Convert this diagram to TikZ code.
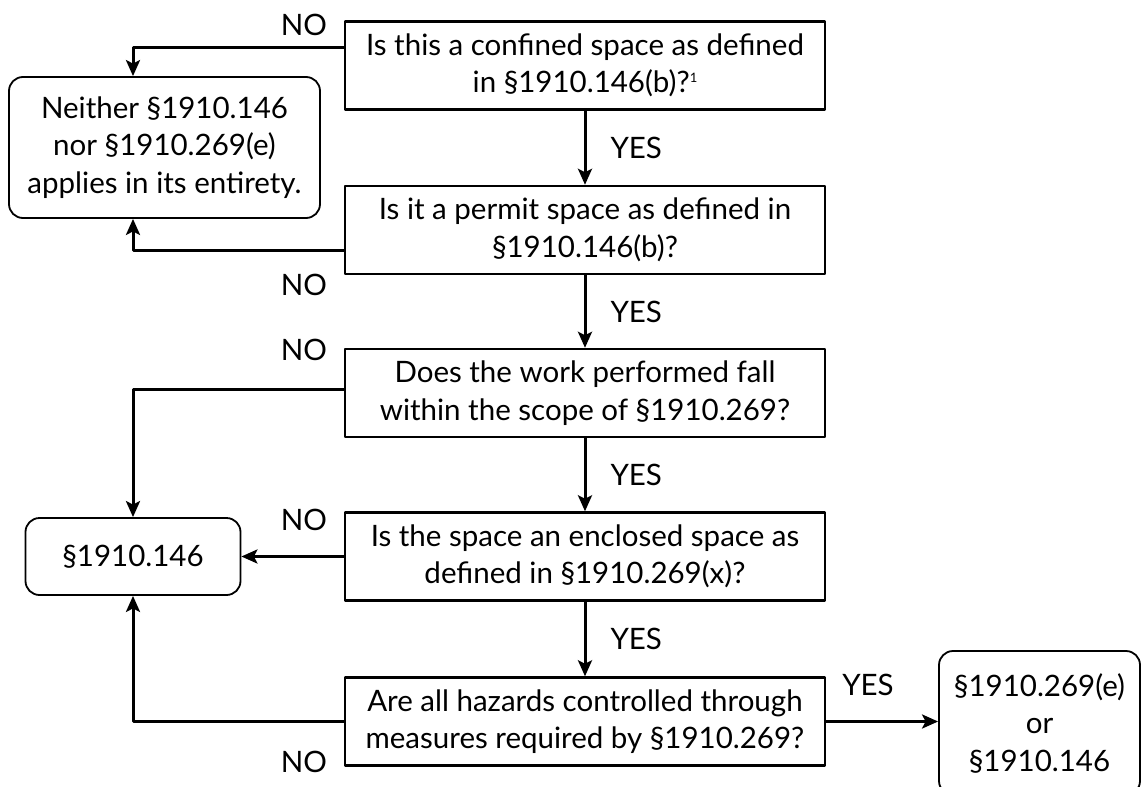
\documentclass[tikz,border=0pt]{standalone}
\usepackage{fontspec}
\setmainfont{Lato}
\usetikzlibrary{arrows.meta}
\begin{document}
\begin{tikzpicture}[x=1pt,y=-1pt,>={Stealth[length=16pt,width=14pt,inset=3.5pt]},line join=round,
  font=\fontsize{29.5}{37.5}\selectfont,
  qbox/.style={draw,line width=2.4pt,minimum width=480pt,minimum height=88pt,align=center,inner sep=0pt},
  rbox/.style={draw,line width=1.8pt,rounded corners=14pt,align=center,inner sep=0pt},
  arr/.style={->,line width=3pt},
  lbl/.style={inner sep=0pt}]
\useasboundingbox (0,0) rectangle (1141,787);
\node[qbox] (q1) at (585,65.5) {Is this a confined space as defined\\in §1910.146(b)?\raisebox{10pt}{\fontsize{13}{13}\selectfont 1}};
\node[qbox] (q2) at (585,230) {Is it a permit space as defined in\\§1910.146(b)?};
\node[qbox] (q3) at (585,393) {Does the work performed fall\\within the scope of §1910.269?};
\node[qbox] (q4) at (585,556.5) {Is the space an enclosed space as\\defined in §1910.269(x)?};
\node[qbox] (q5) at (585,721.5) {Are all hazards controlled through\\measures required by §1910.269?};
\node[rbox,minimum width=311pt,minimum height=141pt] (nei) at (164.5,147.5) {Neither §1910.146\\nor §1910.269(e)\\applies in its entirety.};
\node[rbox,minimum width=215pt,minimum height=77pt] (s146) at (133,556.5) {§1910.146};
\node[rbox,minimum width=201pt,minimum height=144pt] (fin) at (1039.5,723) {§1910.269(e)\\or\\§1910.146};
\draw[arr] (q1.south) -- (q2.north) node[midway,right=24pt,lbl] (y1) {YES};
\draw[arr] (q2.south) -- (q3.north) node[midway,right=24pt,lbl] (y2) {YES};
\draw[arr] (q3.south) -- (q4.north) node[midway,right=24pt,lbl] (y3) {YES};
\draw[arr] (q4.south) -- (q5.north) node[midway,right=24pt,lbl] (y4) {YES};
\draw[arr] ([yshift=18.5pt]q1.west) -| ([xshift=-31.5pt]nei.north);
\draw[arr] ([yshift=-20pt]q2.west) -| ([xshift=-31.5pt]nei.south);
\draw[arr] ([yshift=4pt]q3.west) -| (s146.north);
\draw[arr] (q4.west) -- (s146.east);
\draw[arr] (q5.west) -| (s146.south);
\draw[arr] (q5.east) -- (q5.east -| fin.west);
\node[lbl] (n1) at (304,25) {NO};
\node[lbl] (n2) at (304,285) {NO};
\node[lbl] (n3) at (304,350) {NO};
\node[lbl] (n4) at (304,520) {NO};
\node[lbl] (n5) at (304,762) {NO};
\node[lbl] (y5) at (868,685) {YES};
\end{tikzpicture}
\end{document}
